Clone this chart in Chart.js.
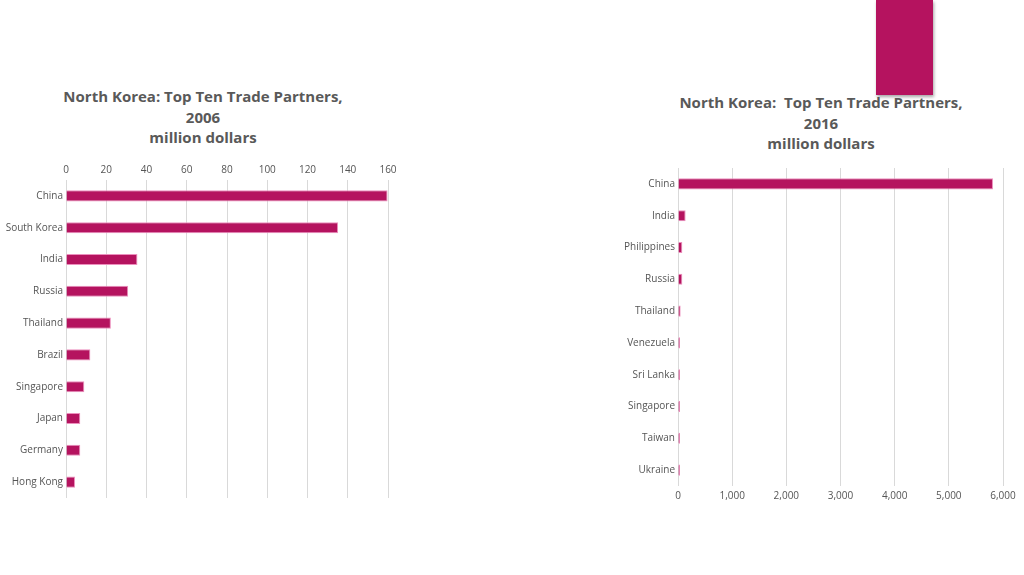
<!DOCTYPE html>
<html>
<head>
<meta charset="utf-8">
<script src="https://cdn.jsdelivr.net/npm/chart.js@4"></script>
<style>
  body { margin: 0; width: 1024px; height: 575px; background: #fff; position: relative; overflow: hidden; font-family: "Open Sans", sans-serif; }
  .title { position: absolute; text-align: center; color: #595959; font-weight: bold; font-size: 15px; line-height: 20.5px; white-space: pre; }
  .box { position: absolute; }
  #tab { position: absolute; left: 876px; top: 0; width: 57px; height: 95px; background: #b5135f; box-shadow: 1px 2px 3px rgba(0,0,0,0.35); }
</style>
</head>
<body>
<div id="tab"></div>
<div class="title" style="left:3px; top:86px; width:400px;">North Korea: Top Ten Trade Partners,
2006
million dollars</div>
<div class="title" style="left:621px; top:92px; width:400px;">North Korea:  Top Ten Trade Partners,
2016
million dollars</div>
<div class="box" style="left:0; top:150px; width:410px; height:357px;"><canvas id="chart2006"></canvas></div>
<div class="box" style="left:610px; top:151px; width:414px; height:360px;"><canvas id="chart2016"></canvas></div>
<script>
const partners2006 = ["China", "South Korea", "India", "Russia", "Thailand", "Brazil", "Singapore", "Japan", "Germany", "Hong Kong"];
const values2006 = [159.8, 135.2, 35.5, 30.9, 22.3, 12.1, 9.1, 7.1, 7.1, 4.5];

const partners2016 = ["China", "India", "Philippines", "Russia", "Thailand", "Venezuela", "Sri Lanka", "Singapore", "Taiwan", "Ukraine"];
const values2016 = [5815, 141, 80, 80, 49, 25, 12, 10, 8, 8];

const barFill = "#b5135f";
const barEdge = "#ec8fbd";
const textColor = "#555555";
const gridColor = "#d9d9d9";

function makeChart(id, labels, values, opts) {
  const ctx = document.getElementById(id).getContext("2d");
  return new Chart(ctx, {
    type: "bar",
    data: {
      labels: labels,
      datasets: [
        {
          data: values,
          backgroundColor: barFill,
          borderColor: barEdge,
          borderWidth: 1,
          barPercentage: 0.35,
          categoryPercentage: 1,
          minBarLength: 2,
        },
      ],
    },
    options: {
      indexAxis: "y",
      responsive: true,
      maintainAspectRatio: false,
      animation: false,
      layout: { padding: opts.padding },
      plugins: { legend: { display: false }, tooltip: { enabled: false } },
      scales: {
        x: {
          position: opts.xPos,
          min: 0,
          max: opts.max,
          ticks: {
            stepSize: opts.step,
            color: textColor,
            font: { family: "Open Sans", size: 10 },
            padding: 4,
            callback: (v) => v.toLocaleString("en-US"),
          },
          grid: { color: gridColor, drawTicks: false },
          border: { display: false },
          afterFit: (scale) => { scale.height = opts.xHeight; },
        },
        y: {
          ticks: {
            color: textColor,
            font: { family: "Open Sans", size: 10 },
            padding: 3,
          },
          grid: { display: false, drawTicks: false },
          border: { display: false },
          afterFit: (scale) => { scale.width = opts.yWidth; },
        },
      },
    },
  });
}

makeChart("chart2006", partners2006, values2006, {
  max: 160, step: 20, xPos: "top", xHeight: 30, yWidth: 66,
  padding: { top: 0, right: 22, bottom: 3, left: 0 },
});

makeChart("chart2016", partners2016, values2016, {
  max: 6000, step: 1000, xPos: "bottom", xHeight: 25, yWidth: 68,
  padding: { top: 17, right: 21, bottom: 0, left: 0 },
});
</script>
</body>
</html>
